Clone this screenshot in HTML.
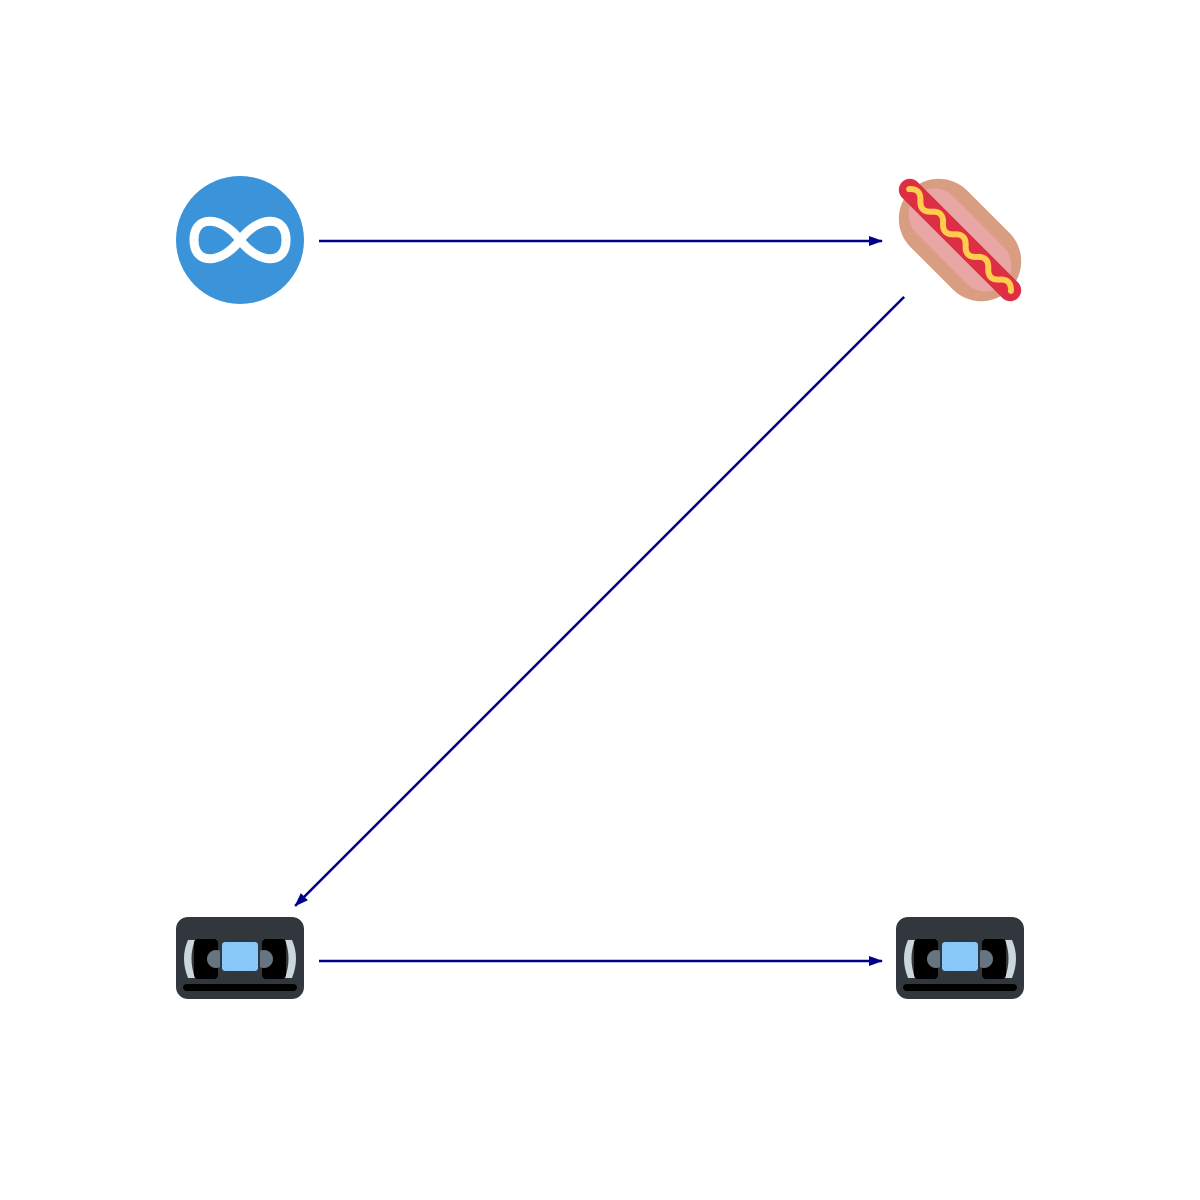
<!DOCTYPE html>
<html><head><meta charset="utf-8"><style>
html,body{margin:0;padding:0;background:#fff;width:1200px;height:1200px;overflow:hidden}
svg{display:block}
</style></head><body>
<svg id="chart" width="1200" height="1200" viewBox="0 0 1200 1200" xmlns="http://www.w3.org/2000/svg">
<defs>
<marker id="arrow" markerWidth="14" markerHeight="10" refX="13" refY="5" orient="auto" markerUnits="userSpaceOnUse">
<path d="M0,0 L14,5 L0,10 Z" fill="#00008b"/>
</marker>
<g id="vhs">
<rect x="-64" y="-41" width="128" height="82" rx="12" fill="#31373d"/>
<path d="M-52,-18 Q-60,0 -52,20 L-45,20 Q-52,0 -45,-18 Z" fill="#ccd6dd"/>
<path d="M52,-18 Q60,0 52,20 L45,20 Q52,0 45,-18 Z" fill="#ccd6dd"/>
<rect x="-46" y="-19" width="24" height="40" rx="4" fill="#000"/>
<rect x="22" y="-19" width="24" height="40" rx="4" fill="#000"/>
<circle cx="-24" cy="1" r="9" fill="#66757f"/>
<circle cx="24" cy="1" r="9" fill="#66757f"/>
<rect x="-20" y="-17" width="40" height="32" fill="#31373d"/>
<rect x="-18" y="-16" width="36" height="29" rx="3" fill="#88c9f9"/>
<rect x="-57" y="26" width="114" height="7" rx="3.5" fill="#000"/>
</g>
</defs>
<g id="edges"></g>
<g id="nodes"></g>
</svg>
<script>
const nodeIds = ["infinity","hotdog","vhs-a","vhs-b"];
const nodeCols = [0,1,0,1];
const nodeRows = [0,0,1,1];
const edgeFrom = [0,1,2];
const edgeTo = [1,2,3];

const xScale = c => 240 + c*720;
const yScale = r => 241 + r*720;
const NS = "http://www.w3.org/2000/svg";
const edgesG = document.getElementById('edges');
const nodesG = document.getElementById('nodes');
const pad = 79;
for (let i=0;i<edgeFrom.length;i++){
  const x1=xScale(nodeCols[edgeFrom[i]]), y1=yScale(nodeRows[edgeFrom[i]]);
  const x2=xScale(nodeCols[edgeTo[i]]), y2=yScale(nodeRows[edgeTo[i]]);
  const d=Math.hypot(x2-x1,y2-y1), ux=(x2-x1)/d, uy=(y2-y1)/d;
  const l=document.createElementNS(NS,'line');
  l.setAttribute('x1',x1+ux*pad);l.setAttribute('y1',y1+uy*pad);
  l.setAttribute('x2',x2-ux*(pad-1));l.setAttribute('y2',y2-uy*(pad-1));
  l.setAttribute('stroke','#00008b');l.setAttribute('stroke-width','2.5');
  l.setAttribute('marker-end','url(#arrow)');
  
  
  edgesG.appendChild(l);
}
for (let i=0;i<nodeIds.length;i++){
  const cx=xScale(nodeCols[i]), cy=yScale(nodeRows[i])-1;
  const g=document.createElementNS(NS,'g');
  
  
  if (nodeIds[i]==='infinity'){
    g.setAttribute('transform',`translate(${cx},${cy})`);
    g.innerHTML='<circle r="64" fill="#3b94d9"/><path d="M0,0 C-18,-24 -46,-26 -46,0 C-46,26 -18,24 0,0 C18,-24 46,-26 46,0 C46,26 18,24 0,0" fill="none" stroke="#fff" stroke-width="9"/>';
  } else if (nodeIds[i]==='hotdog'){
    g.setAttribute('transform',`translate(${cx},${cy}) rotate(45)`);
    g.innerHTML='<rect x="-70" y="-40" width="140" height="80" rx="40" fill="#d99e82"/><rect x="-62" y="-26" width="124" height="52" rx="26" fill="#f4abba" opacity="0.6"/><rect x="-82" y="-11" width="164" height="22" rx="11" fill="#dd2e44"/><path d="M-72,0 q8,-9 16,0 t16,0 t16,0 t16,0 t16,0 t16,0 t16,0 t16,0 t16,0" fill="none" stroke="#ffcc4d" stroke-width="6" stroke-linecap="round"/>';
  } else {
    g.setAttribute('transform',`translate(${cx},${cy-2})`);
    g.innerHTML='<use href="#vhs"/>';
  }
  nodesG.appendChild(g);
}
</script>
</body></html>
